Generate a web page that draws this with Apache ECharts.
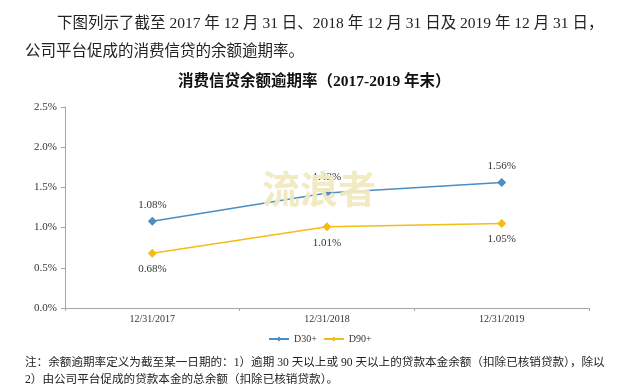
<!DOCTYPE html>
<html>
<head>
<meta charset="utf-8">
<script src="https://cdn.jsdelivr.net/npm/echarts@6/dist/echarts.min.js"></script>
<style>
html,body{margin:0;padding:0;background:#fff;}
#c{width:640px;height:392px;}
</style>
</head>
<body>
<div id="c"></div>
<script>
var categories = ['12/31/2017', '12/31/2018', '12/31/2019'];
var d30 = [1.08, 1.43, 1.56];
var d90 = [0.68, 1.01, 1.05];
var yTicks = [0, 0.5, 1.0, 1.5, 2.0, 2.5];
var seriesNames = ['D30+', 'D90+'];

var SERIF = "'Liberation Serif', 'Times New Roman', 'Noto Sans CJK SC', serif";
var chart = echarts.init(document.getElementById('c'), null, {renderer: 'canvas'});

chart.setOption({
  backgroundColor: '#ffffff',
  animation: false,
  grid: {left: 65, right: 51, top: 107, bottom: 84, containLabel: false},
  xAxis: {
    type: 'category',
    data: categories,
    boundaryGap: true,
    axisLine: {lineStyle: {color: '#a6a6a6', width: 1}},
    axisTick: {show: true, alignWithLabel: false, length: 3, lineStyle: {color: '#a6a6a6'}},
    axisLabel: {color: '#333', fontFamily: SERIF, fontSize: 10, margin: 6}
  },
  yAxis: {
    type: 'value',
    min: yTicks[0],
    max: yTicks[yTicks.length - 1],
    interval: 0.5,
    axisLine: {show: true, lineStyle: {color: '#a6a6a6', width: 1}},
    axisTick: {show: true, length: 4, lineStyle: {color: '#a6a6a6'}},
    splitLine: {show: false},
    axisLabel: {color: '#333', fontFamily: SERIF, fontSize: 11, margin: 8,
      formatter: function (v) { return v.toFixed(1) + '%'; }}
  },
  legend: {
    top: 329,
    left: 263,
    itemWidth: 20,
    itemHeight: 6,
    itemGap: 6,
    textStyle: {fontFamily: SERIF, fontSize: 10, color: '#333'},
    data: seriesNames
  },
  series: [
    {
      name: seriesNames[0], type: 'line', data: d30,
      symbol: 'diamond', symbolSize: 9,
      lineStyle: {color: '#4a8ec4', width: 1.5},
      itemStyle: {color: '#4a8ec4'},
      label: {show: true, position: 'top', distance: 6, color: '#333', fontFamily: SERIF, fontSize: 11,
        formatter: function (p) { return p.value.toFixed(2) + '%'; }}
    },
    {
      name: seriesNames[1], type: 'line', data: d90,
      symbol: 'diamond', symbolSize: 9,
      lineStyle: {color: '#f5bc16', width: 1.5},
      itemStyle: {color: '#f5bc16'},
      label: {show: true, position: 'bottom', distance: 6, color: '#333', fontFamily: SERIF, fontSize: 11,
        formatter: function (p) { return p.value.toFixed(2) + '%'; }}
    }
  ],
  graphic: [
    {type: 'text', left: 57, top: 16, z: 10,
      style: {text: '下图列示了截至 2017 年 12 月 31 日、2018 年 12 月 31 日及 2019 年 12 月 31 日，',
        font: "15.5px " + SERIF, fill: '#222'}},
    {type: 'text', left: 25, top: 44, z: 10,
      style: {text: '公司平台促成的消费信贷的余额逾期率。', font: "15.5px " + SERIF, fill: '#222'}},
    {type: 'text', left: 178, top: 74, z: 10,
      style: {text: '消费信贷余额逾期率（2017-2019 年末）', font: "bold 15.5px " + SERIF, fill: '#111'}},
    {type: 'text', left: 25, top: 357, z: 10,
      style: {text: '注：余额逾期率定义为截至某一日期的：1）逾期 30 天以上或 90 天以上的贷款本金余额（扣除已核销贷款），除以',
        font: "11.6px " + SERIF, fill: '#222'}},
    {type: 'text', left: 25, top: 374, z: 10,
      style: {text: '2）由公司平台促成的贷款本金的总余额（扣除已核销贷款）。', font: "11.6px " + SERIF, fill: '#222'}},
    {type: 'text', left: 262, top: 170, z: 100,
      style: {text: '流浪者', font: "bold 38px 'Noto Sans CJK SC', sans-serif", fill: 'rgba(240,233,192,0.95)'}}
  ]
});
</script>
</body>
</html>
